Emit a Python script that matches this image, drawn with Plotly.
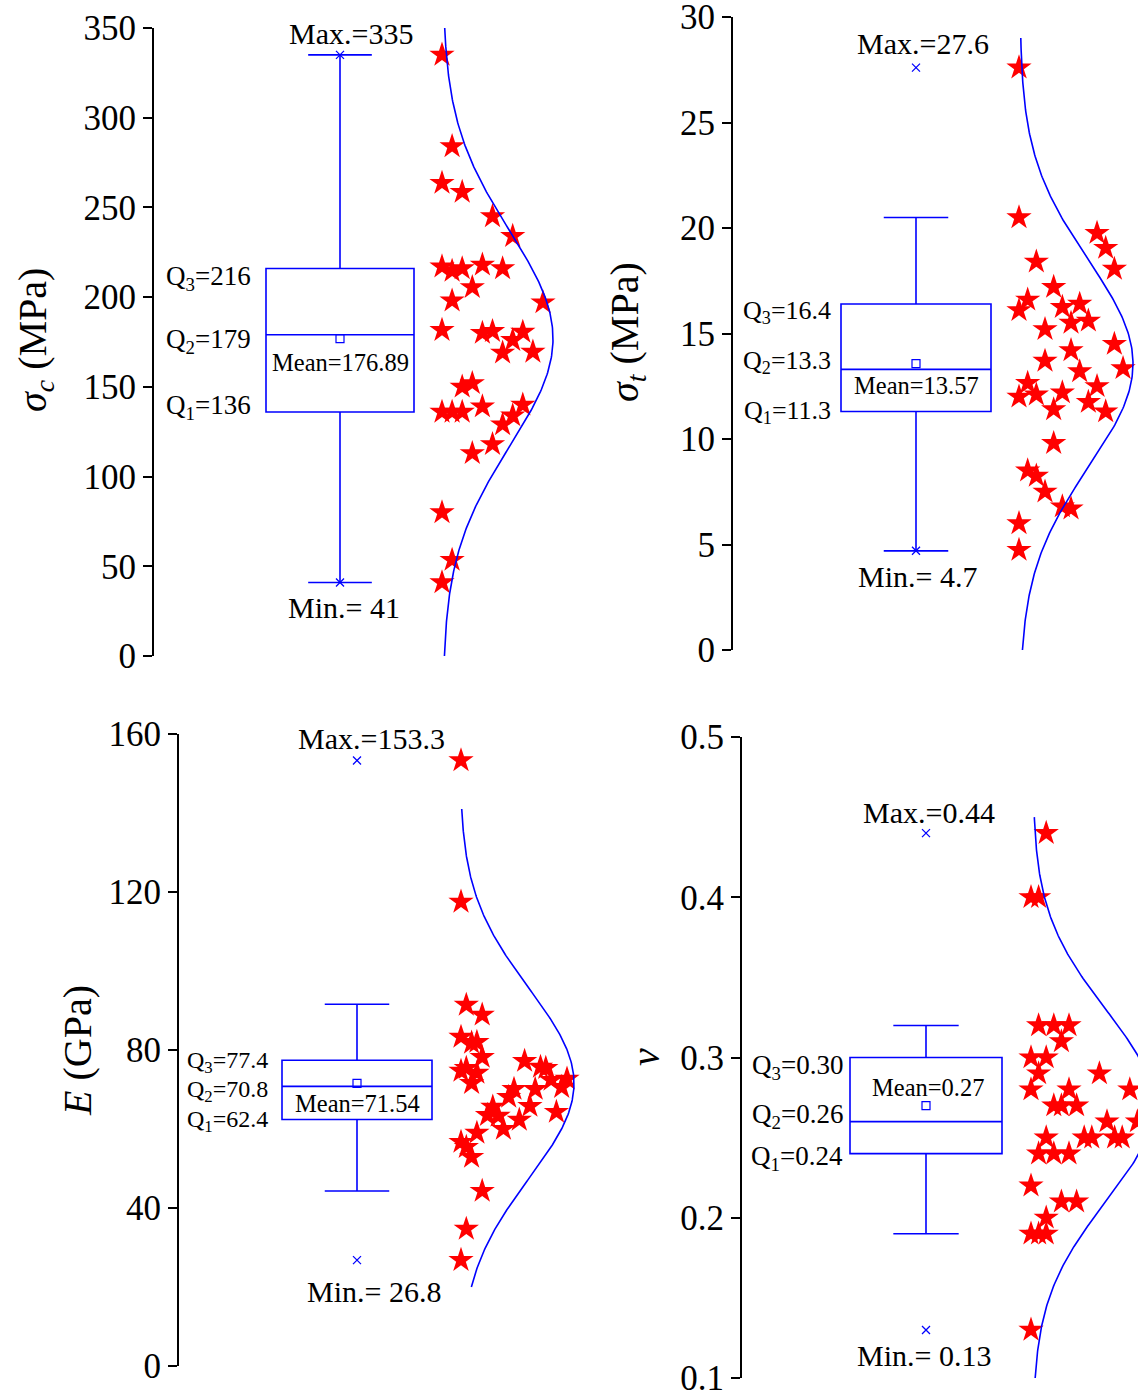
import numpy as np
import plotly.graph_objects as go

# ------------------------------------------------------------------ data
# sigma_c (MPa)
sc_values = [335, 284, 263.6, 258.6, 245, 234, 217, 214.6, 216, 218, 216, 205.5, 198, 197,
             181.6, 180, 181, 180.6, 176, 169, 169.5, 152, 150, 140, 139, 136, 136, 136,
             134, 129, 118, 113, 80, 53.5, 41]
sc_bins = [0, 1, 0, 2, 5, 7, 0, 1, 2, 4, 6, 3, 1, 10,
           0, 4, 5, 8, 7, 6, 9, 3, 2, 8, 4, 0, 1, 2,
           7, 6, 5, 3, 0, 1, 0]
sc_stats = dict(q1=136, q2=179, q3=216, mean=176.89, lo=41, hi=335, mn=41, mx=335, sd=60)
sc_label = dict(q1="136", q2="179", q3="216", mean="176.89", mn="41", mx="335")

# sigma_t (MPa)
st_values = [27.6, 20.5, 19.76, 19.05, 18.06, 18.4, 17.2, 16.6, 16.1, 16.25, 16.4, 15.5, 15.6,
             15.2, 14.5, 14.2, 13.7, 13.35, 13.2, 12.65, 12.5, 12.0, 12.1, 12.2, 11.75, 11.4,
             11.3, 9.8, 8.5, 8.25, 7.5, 6.8, 6.7, 6.0, 4.74]
st_bins = [0, 0, 9, 10, 11, 2, 4, 1, 0, 5, 7, 6, 8,
           3, 11, 6, 3, 12, 7, 1, 9, 0, 2, 5, 8, 4,
           10, 4, 1, 2, 3, 5, 6, 0, 0]
st_stats = dict(q1=11.3, q2=13.3, q3=16.4, mean=13.57, lo=4.7, hi=20.5, mn=4.7, mx=27.6, sd=4.9)
st_label = dict(q1="11.3", q2="13.3", q3="16.4", mean="13.57", mn="4.7", mx="27.6")

# E (GPa)
e_values = [153.3, 117.5, 91.4, 88.9, 83.3, 81.8, 82, 78.2, 77.2, 75.7, 75.4, 74.7, 75.4,
            74.2, 71.6, 72.4, 72.7, 70.6, 70.1, 70.1, 68.1, 65.8, 65.6, 63.5, 63.3, 64.3,
            62.3, 60, 59, 56.7, 55.4, 52.9, 44.3, 34.7, 26.8]
e_bins = [0, 0, 1, 4, 0, 2, 3, 4, 12, 15, 16, 0, 1,
          3, 2, 17, 20, 19, 10, 14, 9, 13, 6, 5, 7, 18,
          11, 8, 3, 0, 1, 2, 4, 1, 0]
e_stats = dict(q1=62.4, q2=70.8, q3=77.4, mean=71.54, lo=44.3, hi=91.6, mn=26.8, mx=153.3, sd=24)
e_label = dict(q1="62.4", q2="70.8", q3="77.4", mean="71.54", mn="26.8", mx="153.3")

# Poisson ratio nu
nu_values = [0.44, 0.40, 0.40, 0.32, 0.32, 0.32, 0.31, 0.30, 0.30, 0.29, 0.29, 0.28, 0.28,
             0.28, 0.27, 0.27, 0.27, 0.26, 0.26, 0.25, 0.25, 0.25, 0.25, 0.25, 0.24, 0.24,
             0.24, 0.22, 0.21, 0.21, 0.20, 0.19, 0.19, 0.19, 0.13]
nu_bins = [2, 0, 1, 1, 3, 5, 4, 0, 2, 1, 9, 0, 5,
           13, 3, 4, 6, 10, 14, 2, 7, 8, 11, 12, 1, 3,
           5, 0, 4, 6, 2, 0, 1, 2, 0]
nu_stats = dict(q1=0.24, q2=0.26, q3=0.30, mean=0.27, lo=0.19, hi=0.32, mn=0.13, mx=0.44, sd=0.06)
nu_label = dict(q1="0.24", q2="0.26", q3="0.30", mean="0.27", mn="0.13", mx="0.44")

# tick labels
sc_ticks = [0, 50, 100, 150, 200, 250, 300, 350]
st_ticks = [0, 5, 10, 15, 20, 25, 30]
e_ticks = [0, 40, 80, 120, 160]
nu_ticks = [0.1, 0.2, 0.3, 0.4, 0.5]
nu_ticktext = ["0.1", "0.2", "0.3", "0.4", "0.5"]

# ------------------------------------------------------------------ layout constants
W, H = 1138, 1394
FONT = "Liberation Serif"
BLUE = "#0000ff"

panels = [
    dict(values=sc_values, bins=sc_bins, st=sc_stats, lab=sc_label, ticks=sc_ticks, ticktext=None,
         axis_px=154, right_px=600, top_px=28, bot_px=656, yr=[0, 350],
         box_c=186, box_w=148, star0=288, step=10.1, cbase=289, camp=110, crange=[0, 350],
         title="<i>σ</i><sub><i>c</i></sub> (MPa)", title_xy=(35, 340),
         mx_xy=(351, 33), mn_xy=(344, 607), q_right=253, q_size=27,
         q_y=(407, 341, 278), mean_xy=(340, 362)),
    dict(values=st_values, bins=st_bins, st=st_stats, lab=st_label, ticks=st_ticks, ticktext=None,
         axis_px=733, right_px=1138, top_px=17, bot_px=650, yr=[0, 30],
         box_c=183, box_w=150, star0=286, step=8.67, cbase=287, camp=113, crange=[0, 29],
         title="<i>σ</i><sub><i>t</i></sub> (MPa)", title_xy=(627, 332),
         mx_xy=(923, 43), mn_xy=(917, 576), q_right=833, q_size=26,
         q_y=(412, 362, 312), mean_xy=(916, 386)),
    dict(values=e_values, bins=e_bins, st=e_stats, lab=e_label, ticks=e_ticks, ticktext=None,
         axis_px=179, right_px=600, top_px=734, bot_px=1366, yr=[0, 160],
         box_c=178, box_w=150, star0=282, step=5.3, cbase=281, camp=114, crange=[20, 141],
         title="<i>E</i> (GPa)", title_xy=(77, 1051),
         mx_xy=(372, 738), mn_xy=(374, 1291), q_right=270, q_size=24,
         q_y=(1121, 1091, 1062), mean_xy=(357, 1103)),
    dict(values=nu_values, bins=nu_bins, st=nu_stats, lab=nu_label, ticks=nu_ticks, ticktext=nu_ticktext,
         axis_px=742, right_px=1138, top_px=737, bot_px=1378, yr=[0.1, 0.5],
         box_c=184, box_w=152, star0=289, step=7.6, cbase=291, camp=120, crange=[0.1, 0.45],
         title="<i>ν</i>", title_xy=(645, 1057),
         mx_xy=(929, 812), mn_xy=(924, 1355), q_right=845, q_size=27,
         q_y=(1158, 1116, 1067), mean_xy=(928, 1087)),
]

fig = go.Figure()
annotations = []
layout = {}

for i, p in enumerate(panels, start=1):
    xa = "x" if i == 1 else f"x{i}"
    ya = "y" if i == 1 else f"y{i}"
    xkey = "xaxis" if i == 1 else f"xaxis{i}"
    ykey = "yaxis" if i == 1 else f"yaxis{i}"
    s = p["st"]
    lab = p["lab"]

    layout[xkey] = dict(domain=[p["axis_px"] / W, p["right_px"] / W],
                        range=[0, p["right_px"] - p["axis_px"]], visible=False,
                        anchor=ya, fixedrange=True, automargin=False)
    yax = dict(domain=[1 - p["bot_px"] / H, 1 - p["top_px"] / H], range=p["yr"], anchor=xa,
               showline=True, linecolor="black", linewidth=2, ticks="outside", ticklen=9,
               tickwidth=2, tickcolor="black", tickvals=p["ticks"], showgrid=False,
               zeroline=False, automargin=False, ticklabeloverflow="allow",
               tickfont=dict(family=FONT, size=35, color="black"))
    if p["ticktext"] is not None:
        yax["ticktext"] = p["ticktext"]
    layout[ykey] = yax

    # box
    fig.add_trace(go.Box(x=[p["box_c"]], q1=[s["q1"]], median=[s["q2"]], q3=[s["q3"]],
                         lowerfence=[s["lo"]], upperfence=[s["hi"]], width=p["box_w"],
                         whiskerwidth=0.43, line=dict(color=BLUE, width=1.6),
                         fillcolor="rgba(0,0,0,0)", boxpoints=False, showlegend=False,
                         hoverinfo="skip", xaxis=xa, yaxis=ya))
    # mean square
    fig.add_trace(go.Scatter(x=[p["box_c"]], y=[s["mean"]], mode="markers",
                             marker=dict(symbol="square-open", size=8, color=BLUE,
                                         line=dict(width=1.2, color=BLUE)),
                             showlegend=False, xaxis=xa, yaxis=ya))
    # max/min crosses
    fig.add_trace(go.Scatter(x=[p["box_c"], p["box_c"]], y=[s["mx"], s["mn"]], mode="markers",
                             marker=dict(symbol="x-thin-open", size=8, color=BLUE,
                                         line=dict(width=1.3, color=BLUE)),
                             showlegend=False, xaxis=xa, yaxis=ya))
    # stars
    sx = [p["star0"] + b * p["step"] for b in p["bins"]]
    fig.add_trace(go.Scatter(x=sx, y=p["values"], mode="markers",
                             marker=dict(symbol="star", size=19, color="red",
                                         line=dict(width=0)),
                             showlegend=False, xaxis=xa, yaxis=ya))
    # normal curve
    cy = np.linspace(p["crange"][0], p["crange"][1], 300)
    cx = p["cbase"] + p["camp"] * np.exp(-0.5 * ((cy - s["mean"]) / s["sd"]) ** 2)
    fig.add_trace(go.Scatter(x=cx, y=cy, mode="lines", line=dict(color=BLUE, width=1.6),
                             showlegend=False, xaxis=xa, yaxis=ya))

    # annotations (paper coords)
    def pa(px, py, text, size, xanchor="center"):
        annotations.append(dict(xref="paper", yref="paper", x=px / W, y=1 - py / H,
                                text=text, showarrow=False, xanchor=xanchor, yanchor="middle",
                                font=dict(family=FONT, size=size, color="black")))

    pa(p["mx_xy"][0], p["mx_xy"][1], f"Max.={lab['mx']}", 30)
    pa(p["mn_xy"][0], p["mn_xy"][1], f"Min.= {lab['mn']}", 30)
    for k, key in enumerate(["q1", "q2", "q3"]):
        pa(p["q_right"], p["q_y"][k], f"Q<sub>{k+1}</sub>={lab[key]}", p["q_size"], xanchor="right")
    pa(p["mean_xy"][0], p["mean_xy"][1], f"Mean={lab['mean']}", 24.5)
    annotations.append(dict(xref="paper", yref="paper", x=p["title_xy"][0] / W,
                            y=1 - p["title_xy"][1] / H, text=p["title"], showarrow=False,
                            textangle=-90, xanchor="center", yanchor="middle",
                            font=dict(family=FONT, size=40, color="black")))

fig.update_layout(width=W, height=H, margin=dict(l=0, r=0, t=0, b=0, autoexpand=False),
                  paper_bgcolor="white", plot_bgcolor="white",
                  annotations=annotations, **layout)

fig.write_html("out.html", config={"displayModeBar": False},
               post_script="document.body.style.margin='0';")
